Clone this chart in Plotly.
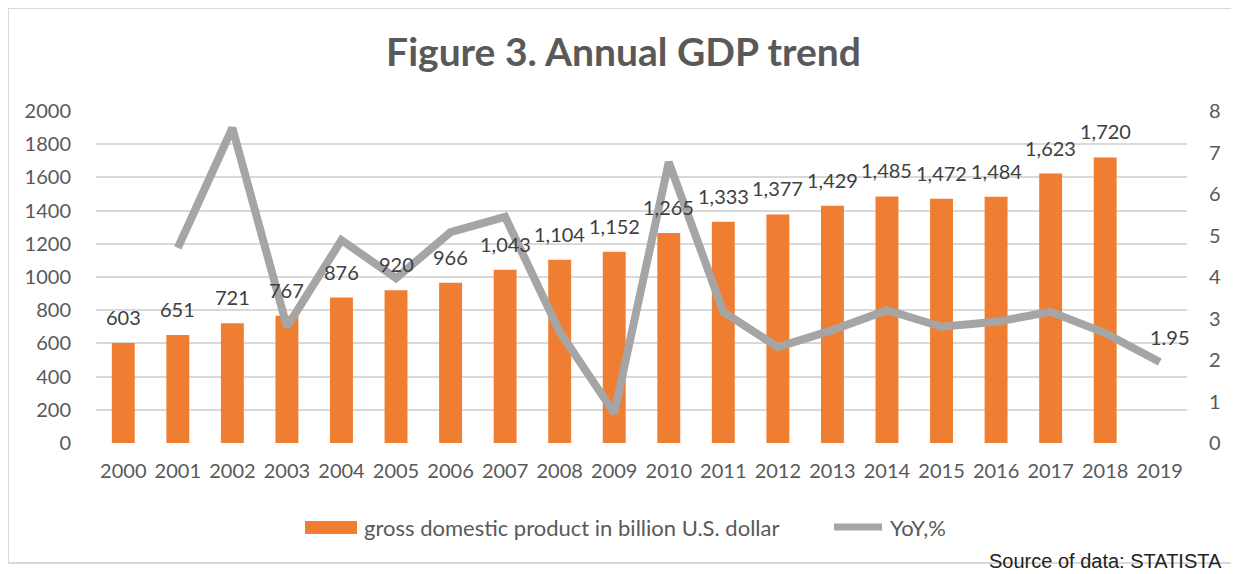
import plotly.graph_objects as go

years = [str(y) for y in range(2000, 2020)]
gdp = [603, 651, 721, 767, 876, 920, 966, 1043, 1104, 1152, 1265, 1333, 1377, 1429, 1485, 1472, 1484, 1623, 1720, None]
yoy = [None, 4.70, 7.59, 2.80, 4.89, 3.97, 5.08, 5.45, 2.68, 0.72, 6.77, 3.16, 2.31, 2.72, 3.20, 2.80, 2.92, 3.16, 2.65, 1.95]
gdp_labels = ["603", "651", "721", "767", "876", "920", "966", "1,043", "1,104", "1,152", "1,265",
              "1,333", "1,377", "1,429", "1,485", "1,472", "1,484", "1,623", "1,720", ""]
yoy_labels = [""] * 19 + ["1.95"]

# the page body adds an 8px margin, so work in page pixels and subtract it
OFF = 8
W, H = 1239 - OFF, 574 - OFF
L, R, T, B = 96 - OFF, 1187 - OFF, 111 - OFF, 443 - OFF
FONT = "Lato"
GREY = "#595959"

def px_x(p):
    return (p - OFF - L) / (R - L)

def px_y(p):
    return (B - (p - OFF)) / (B - T)

fig = go.Figure()
fig.add_trace(go.Bar(
    x=years, y=gdp, name="gross domestic product in billion U.S. dollar",
    marker=dict(color="#EF7E32", line=dict(width=0)),
    yaxis="y", showlegend=False, hoverinfo="x+y",
))
fig.add_trace(go.Scatter(
    x=years, y=yoy, name="YoY,%", mode="lines",
    line=dict(color="#A5A5A5", width=8),
    yaxis="y2", showlegend=False, connectgaps=False, cliponaxis=False,
))

annotations = []
for i, (v, lab) in enumerate(zip(gdp, gdp_labels)):
    if v is None:
        continue
    annotations.append(dict(
        x=i, y=v, xref="x", yref="y", text=lab, showarrow=False,
        yanchor="bottom", yshift=12,
        font=dict(family=FONT, size=20, color="#404040"),
    ))
for i, (v, lab) in enumerate(zip(yoy, yoy_labels)):
    if v is None or not lab:
        continue
    annotations.append(dict(
        x=i, y=v, xref="x", yref="y2", text=lab, showarrow=False,
        yanchor="middle", xshift=10, yshift=25,
        font=dict(family=FONT, size=20, color="#404040"),
    ))

# custom legend
annotations.append(dict(
    x=px_x(362), y=px_y(527), xref="paper", yref="paper",
    text="gross domestic product in billion U.S. dollar", showarrow=False,
    xanchor="left", yanchor="middle", font=dict(family=FONT, size=22, color=GREY),
))
annotations.append(dict(
    x=px_x(888), y=px_y(527), xref="paper", yref="paper",
    text="YoY,%", showarrow=False,
    xanchor="left", yanchor="middle", font=dict(family=FONT, size=22, color=GREY),
))
# source
annotations.append(dict(
    x=px_x(1224), y=px_y(561), xref="paper", yref="paper",
    text="Source of data: STATISTA", showarrow=False,
    xanchor="right", yanchor="middle",
    font=dict(family="Liberation Sans, Arial", size=20, color="#222222"),
))

shapes = [
    dict(type="rect", xref="paper", yref="paper",
         x0=px_x(8), x1=px_x(1237), y0=px_y(563), y1=px_y(8),
         line=dict(color="#D9D9D9", width=2), fillcolor="rgba(0,0,0,0)", layer="below"),
    dict(type="rect", xref="paper", yref="paper",
         x0=px_x(305), x1=px_x(357), y0=px_y(534), y1=px_y(521),
         line=dict(width=0), fillcolor="#EF7E32"),
    dict(type="line", xref="paper", yref="paper",
         x0=px_x(834), x1=px_x(882), y0=px_y(527), y1=px_y(527),
         line=dict(color="#A5A5A5", width=7)),
]

fig.update_layout(
    width=W, height=H,
    margin=dict(l=L, r=W - R, t=T, b=H - B),
    paper_bgcolor="white", plot_bgcolor="white",
    title=dict(text="<b>Figure 3. Annual GDP trend</b>", x=0.5, xref="container",
               y=1 - (52 - OFF) / H, yanchor="middle",
               font=dict(family=FONT, size=39, color=GREY)),
    bargap=0.58,
    xaxis=dict(type="category", range=[-0.5, 19.5],
               tickfont=dict(family=FONT, size=20, color=GREY),
               showgrid=False, showline=False, ticks="", ticklabelstandoff=14),
    yaxis=dict(range=[0, 2000], dtick=200, tickfont=dict(family=FONT, size=20, color=GREY),
               showgrid=True, gridcolor="#D9D9D9", gridwidth=1.5, zeroline=False,
               showline=False, ticks="", ticklabelstandoff=24),
    yaxis2=dict(range=[0, 8], dtick=1, overlaying="y", side="right",
                tickfont=dict(family=FONT, size=20, color=GREY),
                showgrid=False, zeroline=False, showline=False, ticks="",
                ticklabelstandoff=21),
    annotations=annotations,
    shapes=shapes,
    showlegend=False,
)

fig.write_html("out.html")
